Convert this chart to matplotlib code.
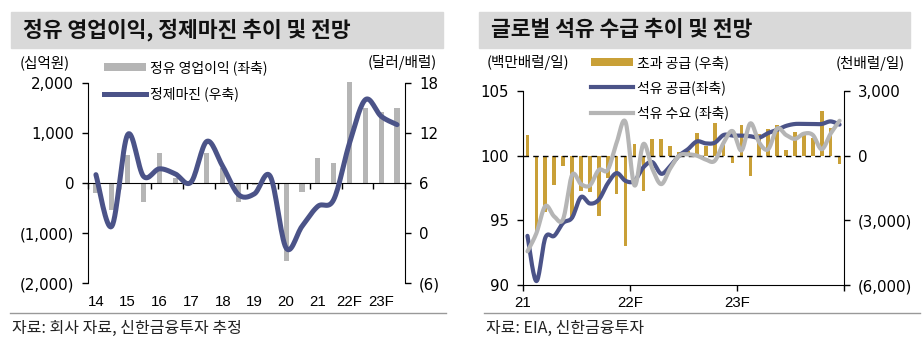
import numpy as np
import matplotlib
matplotlib.use("Agg")
import matplotlib.pyplot as plt
import matplotlib.transforms as mtransforms
from matplotlib.patches import Rectangle, Patch
from matplotlib.lines import Line2D
from matplotlib import font_manager

plt.rcParams['font.family'] = ['Noto Sans CJK KR', 'DejaVu Sans']

# ---- left chart: semiannual refining OP (left axis) and margin (right axis)
years = ['14', '15', '16', '17', '18', '19', '20', '21', '22F', '23F']
op_profit = [-200, -530, 570, -370, 600, 100, 20, 600, 300, -370,
             -40, -20, -1550, -170, 500, 400, 2030, 1500, 1430, 1500]
margin = [7.0, 0.8, 11.8, 6.8, 7.7, 7.1, 6.1, 11.0, 8.0, 4.6,
          4.7, 6.8, -1.8, 0.8, 3.2, 4.0, 10.8, 16.0, 14.0, 13.0]

# ---- right chart: monthly 2021-2023
month_labels = ['21', '22F', '23F']
excess_supply = [970, -3500, -2600, -1340, -490, -2950, -1650, -1700, -2800, -1030,
                 -1800, -4200, 540, -1630, 760, 790, 460, 150, 200, 1060,
                 470, 1510, 500, -330, 1400, -960, 1000, 1240, 1400, 250,
                 1100, 1060, 800, 2060, 1290, -400]
supply = [93.8, 90.3, 93.65, 93.8, 94.8, 95.2, 96.8, 96.3, 96.6, 97.85,
          98.65, 98.05, 98.05, 99.1, 99.5, 98.6, 99.2, 100.0, 100.5, 101.1,
          100.95, 101.0, 101.6, 101.55, 101.55, 101.5, 101.4, 101.75, 102.0, 102.3,
          102.45, 102.45, 102.45, 102.45, 102.65, 102.4]
demand = [92.6, 94.0, 96.1, 95.3, 95.1, 98.5, 97.8, 97.7, 98.9, 98.9,
          101.0, 102.6, 97.7, 100.9, 99.0, 97.8, 99.0, 100.0, 100.1, 100.0,
          99.7, 99.6, 101.0, 101.9, 100.4, 102.5, 101.0, 100.5, 102.1, 101.6,
          101.3, 101.7, 101.6, 100.5, 101.7, 102.7]

NAVY = '#4b5388'
LGRAY = '#b5b5b5'
GOLD = '#c9a037'

names = {f.name for f in font_manager.fontManager.ttflist}
NARROW = 'Liberation Sans Narrow' if 'Liberation Sans Narrow' in names else 'Liberation Sans'


def smooth(x, y, n=16):
    # catmull-rom curve through the points, like excel's smoothed line
    pts = np.column_stack([x, y]).astype(float)
    p = np.vstack([pts[0], pts, pts[-1]])
    segs = []
    t = np.linspace(0, 1, n, endpoint=False)[:, None]
    for i in range(1, len(p) - 2):
        p0, p1, p2, p3 = p[i - 1], p[i], p[i + 1], p[i + 2]
        segs.append(0.5 * (2 * p1 + (-p0 + p2) * t + (2 * p0 - 5 * p1 + 4 * p2 - p3) * t ** 2
                           + (-p0 + 3 * p1 - 3 * p2 + p3) * t ** 3))
    segs.append(pts[-1][None, :])
    c = np.vstack(segs)
    return c[:, 0], c[:, 1]


def paren(v, pos=None):
    return f'({abs(v):,.0f})' if v < 0 else f'{v:,.0f}'


W, H = 922, 352
fig = plt.figure(figsize=(W / 100, H / 100), dpi=100)


def fx(px):
    return px / W


def fy(py):
    return 1 - py / H


# title bands
for x0, x1, txt in [(11, 443, '정유 영업이익, 정제마진 추이 및 전망'),
                    (479, 910, '글로벌 석유 수급 추이 및 전망')]:
    fig.patches.append(Rectangle((fx(x0), fy(48)), fx(x1 - x0), (48 - 12) / H,
                                 transform=fig.transFigure, color='#d9d9d9', zorder=0))
    fig.text(fx(x0 + 12), fy(30), txt, fontsize=15.5, fontweight='bold',
             va='center', ha='left', color='#111111')

# source lines and notes
for x0, x1, txt in [(10, 446, '자료: 회사 자료, 신한금융투자 추정'),
                    (484, 920, '자료: EIA, 신한금융투자')]:
    fig.add_artist(Line2D([fx(x0), fx(x1)], [fy(313), fy(313)], transform=fig.transFigure,
                          color='#999999', lw=1))
    fig.text(fx(x0 + 2), fy(328), txt, fontsize=11.5, va='center', ha='left', color='#222222')

# ---------------- left chart ----------------
ax = fig.add_axes([fx(88), fy(283), fx(405 - 88), (283 - 83) / H])
ax2 = ax.twinx()
xs = np.arange(len(op_profit))
ax.bar(xs, op_profit, width=0.33, color=LGRAY, zorder=2, clip_on=False)
ax.set_ylim(-2000, 2000)
ax.set_xlim(-0.5, len(op_profit) - 0.5)
ax.set_yticks([-2000, -1000, 0, 1000, 2000])
ax.yaxis.set_major_formatter(plt.FuncFormatter(paren))
ax.spines['bottom'].set_position(('data', 0))
ax.spines['top'].set_visible(False)
ax.spines['right'].set_visible(False)
ax.set_xticks(np.arange(-0.5, len(op_profit), 2))
ax.set_xticklabels([])
ax.tick_params(axis='x', direction='out', length=4, width=1)
ax.tick_params(axis='y', direction='out', length=4, width=1, pad=6)
for lab in ax.get_yticklabels():
    lab.set_fontfamily('DejaVu Sans')
    lab.set_fontsize(10.8)
tr = mtransforms.blended_transform_factory(ax.transData, fig.transFigure)
for i, yl in enumerate(years):
    ax.text(2 * i, fy(302), yl, transform=tr, ha='center', va='center',
            fontsize=10.8, family=[NARROW, 'DejaVu Sans'])

sx, sy = smooth(xs, margin)
ax2.plot(sx, sy, color=NAVY, lw=3.6, solid_capstyle='round', zorder=3)
ax2.set_ylim(-6, 18)
ax2.set_yticks([-6, 0, 6, 12, 18])
ax2.yaxis.set_major_formatter(plt.FuncFormatter(paren))
for s in ['top', 'bottom', 'left']:
    ax2.spines[s].set_visible(False)
ax2.tick_params(axis='y', direction='out', length=4, width=1, pad=6)
for lab in ax2.get_yticklabels():
    lab.set_fontfamily('DejaVu Sans')
    lab.set_fontsize(10.8)

fig.text(fx(45), fy(63), '(십억원)', fontsize=10.5, ha='center', va='center')
fig.text(fx(402), fy(63), '(달러/배럴)', fontsize=10.5, ha='center', va='center')

h1 = [Patch(facecolor=LGRAY, edgecolor='none'), Line2D([], [], color=NAVY, lw=3.6)]
fig.legend(h1, ['정유 영업이익 (좌축)', '정제마진 (우축)'], loc='upper left',
           bbox_to_anchor=(fx(104), fy(60)), frameon=False, fontsize=10,
           handlelength=3.0, handleheight=0.6, handletextpad=0.3, labelspacing=0.85,
           borderpad=0, borderaxespad=0)

# ---------------- right chart ----------------
ax3 = fig.add_axes([fx(523), fy(285), fx(844 - 523), (285 - 91) / H])
ax4 = ax3.twinx()
ms = np.arange(len(excess_supply))
ax3.bar(ms, excess_supply, width=0.42, color=GOLD, zorder=2)
ax3.axhline(0, color='black', lw=1, ls=(0, (4, 3)), zorder=3)
ax3.set_ylim(-6000, 3000)
ax3.set_yticks([-6000, -3000, 0, 3000])
ax3.yaxis.set_major_formatter(plt.FuncFormatter(paren))
ax3.yaxis.tick_right()
ax3.set_xlim(-0.5, len(excess_supply) - 0.5)
ax3.set_xticks([-0.5, 11.5, 23.5, 35.5])
ax3.set_xticklabels(month_labels + [''], fontsize=10.8, family=[NARROW, 'DejaVu Sans'])
ax3.spines['top'].set_visible(False)
ax3.tick_params(axis='x', direction='out', length=4, width=1, pad=4)
ax3.tick_params(axis='y', direction='out', length=4, width=1, pad=6)
for lab in ax3.get_yticklabels():
    lab.set_fontfamily('DejaVu Sans')
    lab.set_fontsize(10.8)

for s in ax4.spines.values():
    s.set_visible(False)
bx, by = smooth(ms, supply)
ax4.plot(bx, by, color=NAVY, lw=3.0, solid_capstyle='round', zorder=4)
gx, gy = smooth(ms, demand)
ax4.plot(gx, gy, color=LGRAY, lw=3.0, solid_capstyle='round', zorder=5)
ax4.set_ylim(90, 105)
ax4.set_yticks([90, 95, 100, 105])
ax4.yaxis.tick_left()
ax4.tick_params(axis='y', direction='out', length=4, width=1, pad=6)
for lab in ax4.get_yticklabels():
    lab.set_fontfamily('DejaVu Sans')
    lab.set_fontsize(10.8)

fig.text(fx(528), fy(63), '(백만배럴/일)', fontsize=10.5, ha='center', va='center')
fig.text(fx(870), fy(63), '(천배럴/일)', fontsize=10.5, ha='center', va='center')

h2 = [Patch(facecolor=GOLD, edgecolor='none'),
      Line2D([], [], color=NAVY, lw=3.0), Line2D([], [], color=LGRAY, lw=3.0)]
fig.legend(h2, ['초과 공급 (우축)', '석유 공급(좌축)', '석유 수요 (좌축)'], loc='upper left',
           bbox_to_anchor=(fx(591), fy(55)), frameon=False, fontsize=10,
           handlelength=3.0, handleheight=0.6, handletextpad=0.3, labelspacing=0.75,
           borderpad=0, borderaxespad=0)

fig.savefig('out.png', dpi=100)
